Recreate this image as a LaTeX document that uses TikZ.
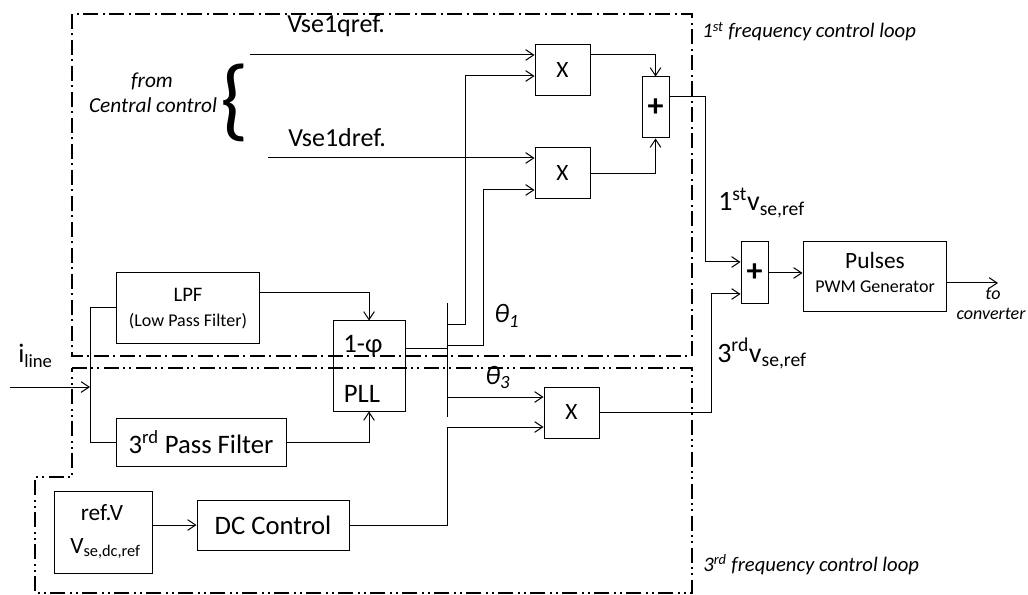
\documentclass[tikz,border=0pt]{standalone}
\usepackage{fontspec}
\setmainfont{Carlito}
\usetikzlibrary{arrows.meta}
\newcommand\fs[1]{\fontsize{#1}{#1}\selectfont}
\tikzset{
  box/.style={draw, line width=0.75pt, inner sep=0pt, align=center},
  sz/.style 2 args={minimum width=#1*0.75pt, minimum height=#2*0.75pt},
  txt/.style={inner sep=0pt, align=center},
  ln/.style={line width=0.75pt},
  arr/.style={line width=0.75pt, -{Straight Barb[length=6pt,width=8pt]}},
  frameA/.style={line width=1.4pt, dash pattern=on 11pt off 3.5pt on 1.5pt off 3.5pt},
  frameB/.style={line width=1.4pt, dash pattern=on 11pt off 3.5pt on 1.5pt off 3pt on 1.5pt off 3.5pt}
}
\begin{document}
\begin{tikzpicture}[x=0.75pt,y=-0.75pt]
\useasboundingbox (0,0) rectangle (1028,595);

% frames
\draw[frameA] (72,14) rectangle (692,356);
\draw[frameB] (72,368) -- (692,368) -- (692,593) -- (35,593) -- (35,477) -- (72,477) -- cycle;

% blocks
\node[box, sz={55}{51}, font=\fs{17.5}] (X1) at (562.5,70.5) {X};
\node[box, sz={55}{51}, font=\fs{17.5}] (X2) at (562.5,173.5) {X};
\node[box, sz={27}{61}, font=\fs{24}\bfseries] (P1) at (655.5,107.5) {+};
\node[box, sz={27}{62}, font=\fs{24}\bfseries] (P2) at (754.5,273) {+};
\node[box, sz={143}{70}] (PUL) at (874.5,277) {};
\node[box, sz={143}{70}] (LPF) at (187.5,308) {};
\node[box, sz={72}{90}] (PLL) at (369,366) {};
\node[box, sz={170}{48}, font=\fs{20}] (TPF) at (201,442) {3\textsuperscript{rd} Pass Filter};
\node[box, sz={55}{51}, font=\fs{17.5}] (X3) at (571.5,412.5) {X};
\node[box, sz={98}{82}] (REF) at (103,532) {};
\node[box, sz={152}{50}, font=\fs{20}] (DC) at (273,525) {DC Control};

% texts inside two-line blocks
\node[txt, font=\fs{17.5}, anchor=base] (pulA) at (875,269) {Pulses};
\node[txt, font=\fs{13.5}, anchor=base] (pulB) at (875,292) {PWM Generator};
\node[txt, font=\fs{15.5}, anchor=base] (lpfA) at (188,301) {LPF};
\node[txt, font=\fs{13.5}, anchor=base] (lpfB) at (188,326) {(Low Pass Filter)};
\node[txt, font=\fs{20}, anchor=base] (pllA) at (363,352) {1-φ};
\node[txt, font=\fs{20}, anchor=base] (pllB) at (362,402) {PLL};
\node[txt, font=\fs{17.5}, anchor=base] (refA) at (102,520) {ref.V};
\node[txt, font=\fs{17.5}, anchor=base west] (refB) at (70,553) {V\textsubscript{se,dc,ref}};

% coordinates
\coordinate (q0) at (250,55);
\coordinate (d0) at (268,158);
\coordinate (barT) at (447,303);
\coordinate (barB) at (447,417);
\coordinate (t1) at (447,325);
\coordinate (t1u) at (465,76);
\coordinate (t2) at (447,345);
\coordinate (t2u) at (483,190);
\coordinate (t3) at (447,397);
\coordinate (pllo) at (447,348);
\coordinate (s1) at (705,97);
\coordinate (s1d) at (705,262);
\coordinate (s3) at (711,294);
\coordinate (conv) at (998,283);
\coordinate (lpo) at (259,293);
\coordinate (in) at (10,387);
\coordinate (inJ) at (90,387);
\coordinate (jT) at (90,308);
\coordinate (jB) at (90,442);
\coordinate (dcj) at (447,427);

% connectors
\draw[arr] (q0) -- (q0 -| X1.west);
\draw[arr] (d0) -- (d0 -| X2.west);
\draw[ln] (barT) -- (barB);
\draw[arr] (t1) -| (t1u) -- (t1u -| X1.west);
\draw[arr] (t2) -| (t2u) -- (t2u -| X2.west);
\draw[arr] (t3) -- (t3 -| X3.west);
\draw[ln] (PLL.east |- pllo) -- (pllo);
\draw[arr] (X1.east |- q0) -| (P1.north);
\draw[arr] (X2.east) -| (P1.south);
\draw[arr] (P1.east |- s1) -| (s1d) -- (s1d -| P2.west);
\draw[arr] (X3.east) -| (s3) -- (s3 -| P2.west);
\draw[arr] (P2.east) -- (P2.east -| PUL.west);
\draw[arr] (PUL.east |- conv) -- (conv);
\draw[arr] (lpo) -| (PLL.north);
\draw[arr] (TPF.east) -| (PLL.south);
\draw[arr] (in) -- (inJ);
\draw[ln] (jT) -- (jB);
\draw[ln] (jT) -- (LPF.west);
\draw[ln] (jB) -- (TPF.west);
\draw[arr] (REF.east |- DC.west) -- (DC.west);
\draw[arr] (DC.east) -| (dcj) -- (dcj -| X3.west);

% labels
\node[txt, font=\fs{19.5}, anchor=base west] (vqt) at (287,33) {Vse1qref.};
\node[txt, font=\fs{19.5}, anchor=base west] (vdt) at (288,147) {Vse1dref.};
\node[txt, font=\fs{68}] (brace) at (235,103) {\{};
\node[txt, font=\fs{16}\itshape, anchor=base] (from) at (152,88) {from};
\node[txt, font=\fs{16}\itshape, anchor=base] (cc) at (153,113) {Central control};
\node[txt, font=\fs{15.5}\itshape, anchor=base west] (l1) at (702,38) {1\textsuperscript{st} frequency control loop};
\node[txt, font=\fs{15.5}\itshape, anchor=base west] (l3) at (703,571) {3\textsuperscript{rd} frequency control loop};
\node[txt, font=\fs{21}, anchor=base west] (v1) at (718,211) {1\textsuperscript{st}v\textsubscript{se,ref}};
\node[txt, font=\fs{21}, anchor=base west] (v3) at (717,362) {3\textsuperscript{rd}v\textsubscript{se,ref}};
\node[txt, font=\fs{20}\itshape, anchor=base west] (th1) at (494,323) {θ\textsubscript{1}};
\node[txt, font=\fs{20}\itshape, anchor=base west] (th3) at (485,384) {θ\textsubscript{3}};
\node[txt, font=\fs{20}, anchor=base west] (il) at (18,363) {i\textsubscript{line}};
\node[txt, font=\fs{13.5}\itshape, anchor=base] (to) at (993,300) {to};
\node[txt, font=\fs{13.5}\itshape, anchor=base] (cv) at (991,320) {converter};
\end{tikzpicture}
\end{document}
